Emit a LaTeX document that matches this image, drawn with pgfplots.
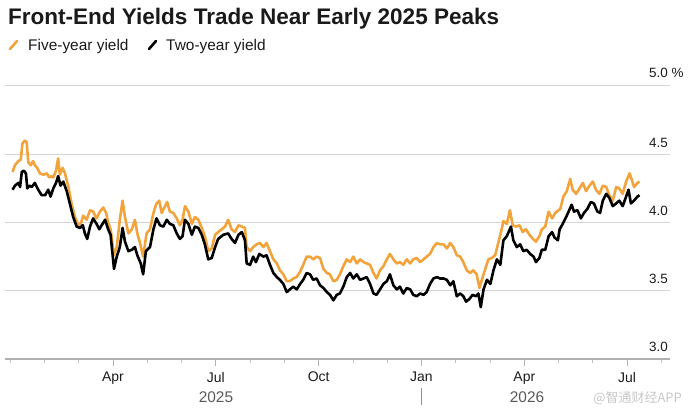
\documentclass[border=0pt]{standalone}
\usepackage{pgfplots}
\pgfplotsset{compat=1.18}
\usepackage{pgfplotstable}
\usepackage{fontspec}
\setmainfont{Liberation Sans}
\newfontfamily\cjk{Noto Sans CJK SC}
\definecolor{fiveyr}{HTML}{F2A33C}
\definecolor{gridc}{HTML}{D4D4D4}
\definecolor{axisc}{HTML}{B0B0B0}
\definecolor{txt}{HTML}{1A1A1A}

\pgfplotstableread{
m y
0.07 4.37
0.14 4.42
0.24 4.45
0.31 4.46
0.36 4.58
0.43 4.60
0.48 4.59
0.53 4.44
0.60 4.42
0.67 4.45
0.72 4.42
0.79 4.40
0.87 4.36
0.97 4.35
1.07 4.36
1.14 4.33
1.21 4.34
1.26 4.33
1.34 4.38
1.40 4.47
1.45 4.35
1.53 4.40
1.60 4.36
1.70 4.26
1.79 4.14
1.89 4.04
1.99 3.98
2.06 3.99
2.13 4.05
2.23 4.02
2.33 4.09
2.42 4.08
2.52 4.03
2.62 4.08
2.72 4.11
2.80 4.07
2.86 4.00
2.93 3.95
2.96 3.90
3.02 3.76
3.11 3.82
3.20 4.02
3.28 4.16
3.35 4.04
3.45 3.92
3.55 3.95
3.64 4.02
3.71 3.92
3.79 3.85
3.88 3.75
3.98 3.92
4.08 3.95
4.18 4.07
4.27 4.14
4.35 4.16
4.42 4.07
4.52 4.12
4.58 4.15
4.66 4.08
4.76 4.07
4.86 4.03
4.95 3.98
5.03 4.02
5.10 4.12
5.20 4.08
5.30 3.99
5.39 4.04
5.49 4.02
5.59 3.96
5.68 3.90
5.78 3.79
5.88 3.81
5.98 3.91
6.07 3.93
6.17 3.95
6.27 3.97
6.36 4.02
6.46 3.95
6.56 3.93
6.66 3.98
6.76 3.97
6.85 3.96
6.90 3.82
7.00 3.79
7.09 3.82
7.19 3.84
7.29 3.85
7.39 3.82
7.48 3.85
7.58 3.79
7.68 3.73
7.78 3.70
7.87 3.65
7.97 3.62
8.07 3.57
8.16 3.57
8.26 3.59
8.36 3.60
8.46 3.64
8.55 3.69
8.65 3.75
8.75 3.75
8.84 3.73
8.94 3.75
9.04 3.74
9.14 3.66
9.24 3.63
9.33 3.62
9.43 3.57
9.53 3.58
9.62 3.62
9.72 3.68
9.82 3.73
9.92 3.71
10.01 3.75
10.11 3.70
10.21 3.73
10.31 3.71
10.40 3.70
10.50 3.69
10.60 3.63
10.69 3.59
10.79 3.65
10.89 3.68
10.99 3.73
11.08 3.77
11.18 3.73
11.28 3.70
11.37 3.71
11.47 3.69
11.57 3.73
11.67 3.70
11.76 3.73
11.86 3.74
11.96 3.71
12.06 3.73
12.15 3.75
12.25 3.77
12.35 3.82
12.45 3.85
12.54 3.84
12.64 3.84
12.74 3.81
12.84 3.85
12.93 3.82
13.03 3.76
13.13 3.75
13.22 3.71
13.32 3.65
13.42 3.63
13.51 3.65
13.61 3.62
13.69 3.52
13.76 3.58
13.85 3.65
13.95 3.73
14.05 3.74
14.15 3.76
14.24 3.85
14.34 3.95
14.39 4.01
14.49 3.99
14.58 4.09
14.66 3.98
14.76 3.97
14.86 3.98
14.95 3.93
15.05 3.95
15.15 3.91
15.25 3.88
15.34 3.86
15.44 3.90
15.51 3.95
15.61 3.97
15.71 4.08
15.81 4.03
15.90 4.07
15.95 4.08
16.05 4.10
16.14 4.19
16.24 4.23
16.34 4.32
16.41 4.24
16.51 4.21
16.61 4.25
16.71 4.29
16.80 4.23
16.90 4.27
17.00 4.30
17.09 4.24
17.19 4.21
17.29 4.27
17.39 4.26
17.48 4.20
17.58 4.16
17.68 4.26
17.77 4.25
17.87 4.21
17.97 4.30
18.07 4.36
18.14 4.31
18.20 4.26
18.30 4.29
18.36 4.30
}\fiveyear

\pgfplotstableread{
m y
0.07 4.24
0.14 4.27
0.24 4.29
0.29 4.26
0.34 4.37
0.40 4.38
0.46 4.36
0.50 4.25
0.56 4.27
0.63 4.26
0.72 4.29
0.82 4.24
0.92 4.20
1.02 4.20
1.11 4.24
1.18 4.19
1.26 4.25
1.34 4.29
1.40 4.34
1.47 4.27
1.55 4.30
1.65 4.23
1.74 4.14
1.84 4.04
1.94 3.97
2.04 3.96
2.12 3.98
2.18 3.92
2.25 3.88
2.33 3.97
2.42 4.03
2.52 3.99
2.60 3.95
2.67 3.98
2.77 4.02
2.86 3.95
2.93 3.91
3.03 3.66
3.11 3.75
3.20 3.82
3.28 3.96
3.35 3.86
3.45 3.79
3.55 3.80
3.64 3.82
3.71 3.76
3.81 3.70
3.88 3.62
3.96 3.79
4.08 3.82
4.18 3.95
4.27 4.03
4.37 3.98
4.47 3.97
4.57 4.02
4.66 3.99
4.76 3.98
4.86 3.92
4.95 3.88
5.03 3.90
5.10 4.02
5.20 3.99
5.30 3.91
5.39 3.97
5.49 3.96
5.59 3.91
5.68 3.84
5.78 3.73
5.88 3.74
5.98 3.82
6.07 3.88
6.17 3.90
6.22 3.91
6.36 3.92
6.46 3.88
6.56 3.85
6.66 3.91
6.76 3.93
6.85 3.87
6.90 3.70
7.00 3.69
7.09 3.75
7.17 3.71
7.27 3.77
7.39 3.75
7.48 3.76
7.58 3.69
7.68 3.63
7.78 3.60
7.87 3.58
7.97 3.55
8.07 3.49
8.16 3.51
8.26 3.53
8.36 3.51
8.46 3.55
8.55 3.58
8.65 3.63
8.75 3.62
8.84 3.58
8.94 3.59
9.04 3.54
9.14 3.52
9.24 3.49
9.33 3.47
9.43 3.43
9.53 3.47
9.62 3.48
9.72 3.53
9.82 3.60
9.92 3.63
10.01 3.59
10.11 3.62
10.21 3.58
10.31 3.59
10.40 3.60
10.50 3.55
10.60 3.48
10.69 3.47
10.79 3.51
10.89 3.55
10.99 3.57
11.08 3.62
11.18 3.54
11.28 3.51
11.37 3.53
11.47 3.48
11.57 3.52
11.67 3.51
11.76 3.47
11.86 3.46
11.96 3.48
12.06 3.47
12.15 3.49
12.25 3.55
12.35 3.59
12.45 3.60
12.54 3.59
12.64 3.59
12.74 3.58
12.84 3.54
12.93 3.57
13.03 3.46
13.13 3.48
13.22 3.46
13.30 3.42
13.40 3.44
13.49 3.47
13.59 3.46
13.66 3.48
13.73 3.38
13.81 3.51
13.91 3.58
14.01 3.55
14.10 3.65
14.20 3.73
14.30 3.69
14.39 3.87
14.49 3.90
14.61 3.97
14.68 3.87
14.78 3.82
14.88 3.84
14.97 3.79
15.07 3.80
15.17 3.77
15.27 3.75
15.34 3.71
15.44 3.74
15.51 3.80
15.61 3.80
15.71 3.90
15.81 3.93
15.88 3.89
15.98 3.87
16.03 3.95
16.12 3.99
16.22 4.04
16.31 4.09
16.38 4.13
16.45 4.08
16.55 4.09
16.65 4.03
16.74 4.07
16.84 4.10
16.94 4.15
17.03 4.14
17.13 4.08
17.21 4.07
17.29 4.16
17.39 4.21
17.48 4.18
17.58 4.12
17.68 4.14
17.77 4.16
17.87 4.12
17.97 4.19
18.04 4.24
18.11 4.14
18.20 4.16
18.30 4.19
18.36 4.20
}\twoyear

\begin{document}
\begin{tikzpicture}
\useasboundingbox (0,0) rectangle (688bp,411bp);
\begin{axis}[
  at={(5bp,52bp)}, anchor=south west,
  scale only axis,
  width=665bp, height=273bp,
  xmin=-0.15, xmax=19.25,
  ymin=3, ymax=5,
  axis x line*=bottom,
  axis y line*=right,
  y axis line style={draw=none},
  x axis line style={color=axisc, line width=1.1bp, -},
  xtick={3,6,9,12,15,18},
  xticklabels={Apr,Jul,Oct,Jan,Apr,Jul},
  minor xtick={0,1,...,19},
  tick align=outside,
  major tick length=7bp,
  minor tick length=4bp,
  xtick style={color=axisc, line width=0.9bp},
  minor x tick style={color=axisc!80, line width=0.8bp},
  xticklabel style={font=\fontsize{14}{16}\selectfont, text=txt, inner sep=0pt, anchor=north, yshift=-6bp},
  ytick={3.5,4,4.5,5},
  yticklabel=\empty,
  ytick style={draw=none},
  ymajorgrids,
  grid style={color=gridc, line width=1bp},
  clip=false,
]
\addplot[color=fiveyr, line width=2.6bp, line join=round] table[x=m,y=y] {\fiveyear};
\addplot[color=black, line width=2.6bp, line join=round] table[x=m,y=y] {\twoyear};
\end{axis}
% right-side y labels
\foreach \v/\l [count=\i from 0] in {3.0/3.0,3.5/3.5,4.0/4.0,4.5/4.5} {
  \node[anchor=base east, inner sep=0pt, font=\fontsize{13.5}{16}\selectfont, text=txt] at (668bp,{52bp+\i*68.25bp+7bp}) {\l};
}
\node[anchor=base east, inner sep=0pt, font=\fontsize{13.5}{16}\selectfont, text=txt] at (668bp,{52bp+273bp+8bp}) {5.0\rlap{ \%}};
% title
\node[anchor=base west, inner sep=0pt, font=\fontsize{22.6}{27}\selectfont\bfseries, text=txt] at (8bp,386bp) {Front-End Yields Trade Near Early 2025 Peaks};
% legend
\draw[fiveyr, line width=2.6bp, line cap=round] (10bp,362bp) -- (17bp,370bp);
\node[anchor=base west, inner sep=0pt, font=\fontsize{15.5}{18}\selectfont, text=txt] at (28bp,360bp) {Five-year yield};
\draw[black, line width=2.6bp, line cap=round] (149bp,362bp) -- (156bp,370bp);
\node[anchor=base west, inner sep=0pt, font=\fontsize{15.5}{18}\selectfont, text=txt] at (166bp,360bp) {Two-year yield};
% years
\node[anchor=base, inner sep=0pt, font=\fontsize{15.5}{18}\selectfont, text=black!65] at (216bp,9bp) {2025};
\node[anchor=base, inner sep=0pt, font=\fontsize{15.5}{18}\selectfont, text=black!65] at (527bp,9bp) {2026};
\draw[black!45, line width=0.9bp] (421bp,23bp) -- (421bp,6bp);
% watermark
\node[anchor=base east, inner sep=0pt, font=\cjk\fontsize{13}{15}\selectfont, text=black!22] at (682bp,9bp) {@智通财经APP};
\end{tikzpicture}
\end{document}
